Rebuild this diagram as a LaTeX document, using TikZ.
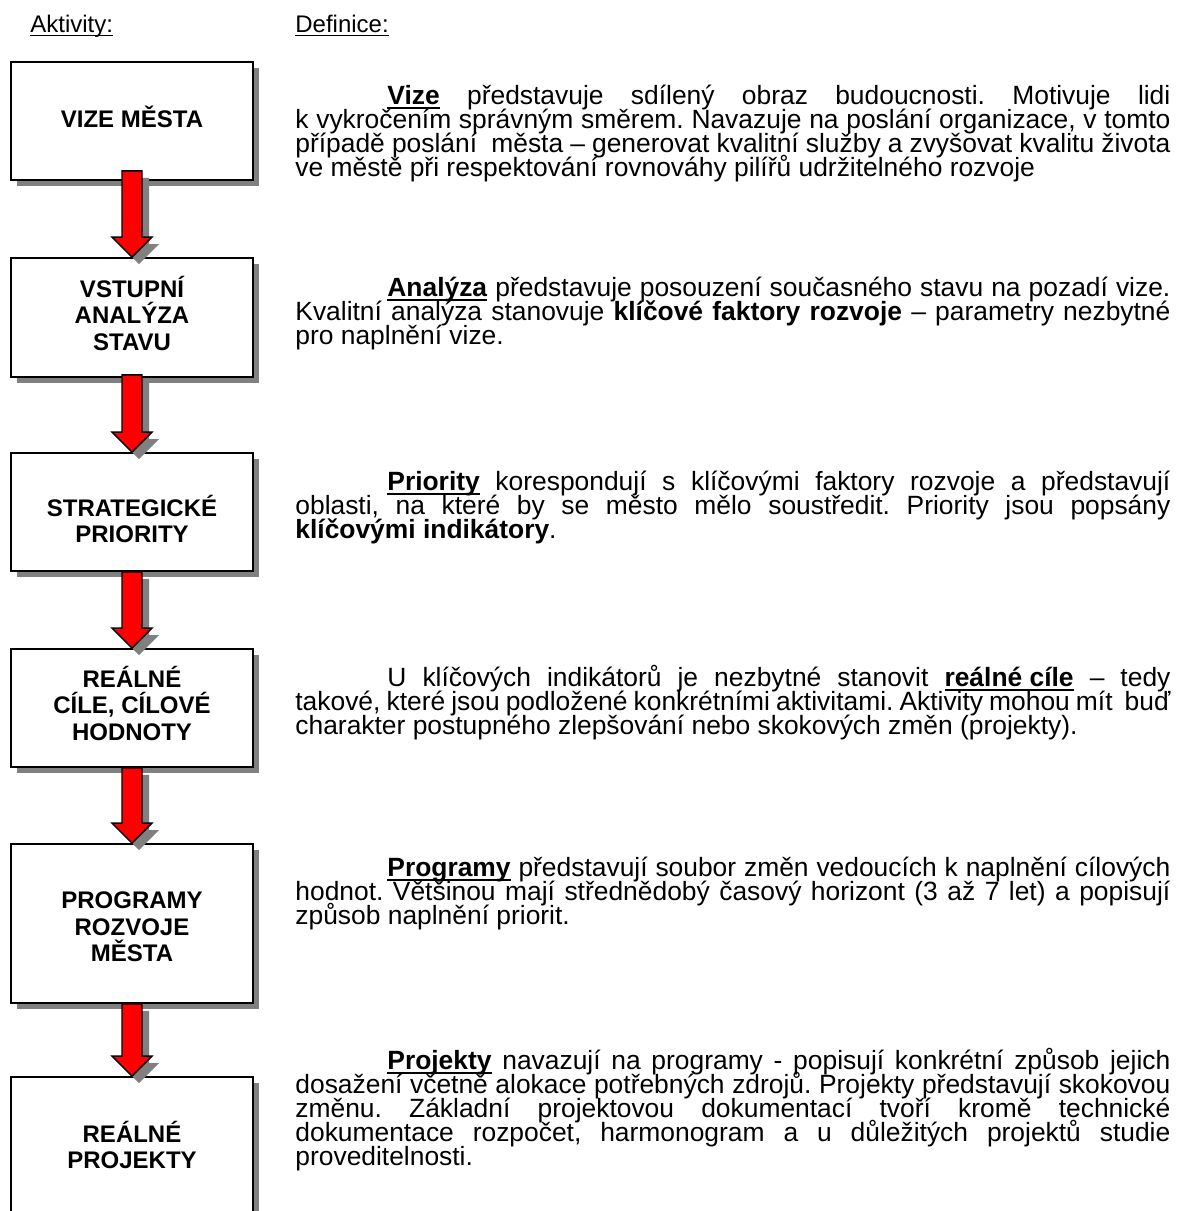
\documentclass[tikz,border=0pt]{standalone}
\usepackage{fontspec}
\setmainfont{Liberation Sans}
\usetikzlibrary{calc,shadows}
\definecolor{shadowgray}{HTML}{808080}
\newsavebox{\ulbox}
\newcommand{\keyword}[1]{\sbox{\ulbox}{\textbf{#1}}\rlap{\rule[-2.6pt]{\wd\ulbox}{1pt}}\usebox{\ulbox}}
\newcommand{\headline}[1]{\sbox{\ulbox}{#1}\rlap{\rule[-2pt]{\wd\ulbox}{0.5pt}}\usebox{\ulbox}}
\newcommand{\defnfont}{\fontsize{13.2}{12}\selectfont\frenchspacing}
\newcommand{\tightlines}{\lineskiplimit-20pt\relax\lineskip0pt\relax}
\begin{document}
\begin{tikzpicture}[x=0.5pt,y=-0.5pt,
  box/.style={rectangle,draw=black,line width=0.9pt,fill=white,minimum width=121pt,drop shadow={shadow xshift=3pt,shadow yshift=-3pt,fill=shadowgray,opacity=1}},
  boxtext/.style={align=center,font=\fontsize{12}{13.25}\selectfont\bfseries},
  defn/.style={anchor=base west,text width=437.5pt,align=justify,inner sep=0pt,font=\defnfont,execute at begin node=\tightlines},
  head/.style={anchor=base west,inner sep=0pt,font=\fontsize{12}{14}\selectfont},
  flow/.style={fill=red,draw=black,line width=0.7pt,line join=miter,drop shadow={shadow xshift=3.5pt,shadow yshift=-3.5pt,fill=shadowgray,opacity=1}}]
  \useasboundingbox (0,0) rectangle (1203,1211);
  \clip (0,0) rectangle (1203,1211);
  % column headers
  \node[head] (hakt) at (30,32) {\headline{Aktivity:}};
  \node[head] (hdef) at (295,32) {\headline{Definice:}};
  % activity boxes
  \node[box,minimum height=59pt] (b1) at (132,121) {};
  \node[box,minimum height=59.5pt] (b2) at (132,317.5) {};
  \node[box,minimum height=59pt] (b3) at (132,512) {};
  \node[box,minimum height=59pt] (b4) at (132,708) {};
  \node[box,minimum height=79.5pt] (b5) at (132,923.5) {};
  \node[box,minimum height=71.5pt] (b6) at (132,1148.5) {};
  \node[boxtext] (t1) at (132,117) {VIZE MĚSTA};
  \node[boxtext] (t2) at (132,313) {VSTUPNÍ\\ANALÝZA\\STAVU};
  \node[boxtext] (t3) at (132,519) {STRATEGICKÉ\\PRIORITY};
  \node[boxtext] (t4) at (132,703) {REÁLNÉ\\CÍLE, CÍLOVÉ\\HODNOTY};
  \node[boxtext] (t5) at (132,927) {PROGRAMY\\ROZVOJE\\MĚSTA};
  \node[boxtext] (t6) at (132,1145) {REÁLNÉ\\PROJEKTY};
  % block arrows
  \foreach \from/\to/\lap in {b1/b2/5pt,b2/b3/1.5pt,b3/b4/0pt,b4/b5/0pt,b5/b6/0pt}
    \draw[flow] ($(\from.south)+(-5pt,\lap)$) -- ($(\to.north)+(-5pt,10pt)$) -- ($(\to.north)+(-10pt,10pt)$) -- (\to.north) -- ($(\to.north)+(10pt,10pt)$) -- ($(\to.north)+(5pt,10pt)$) -- ($(\from.south)+(5pt,\lap)$) -- cycle;
  % definitions
  \node[defn] (d1) at (295,104) {\hspace*{46pt}\keyword{Vize} představuje sdílený obraz budoucnosti. Motivuje lidi\linebreak k~vykročením správným směrem. Navazuje na poslání organizace, v~tomto\linebreak případě poslání~ města – generovat kvalitní služby a zvyšovat kvalitu života\linebreak ve městě při respektování rovnováhy pilířů udržitelného rozvoje};
  \node[defn] (d2) at (295,296) {\hspace*{46pt}\keyword{Analýza} představuje posouzení současného stavu na pozadí vize.\linebreak Kvalitní analýza stanovuje \textbf{klíčové faktory rozvoje} – parametry nezbytné\linebreak pro naplnění vize.};
  \node[defn] (d3) at (295,490) {\hspace*{46pt}\keyword{Priority} korespondují s~klíčovými faktory rozvoje a představují\linebreak oblasti, na které by se město mělo soustředit. Priority jsou popsány\linebreak \textbf{klíčovými indikátory}.};
  \node[defn] (d4) at (295,686) {\hspace*{46pt}U klíčových indikátorů je nezbytné stanovit \keyword{reálné cíle} – tedy\linebreak takové, které jsou podložené konkrétními aktivitami. Aktivity mohou mít~ buď\linebreak charakter postupného zlepšování nebo skokových změn (projekty).};
  \node[defn] (d5) at (295,876) {\hspace*{46pt}\keyword{Programy} představují soubor změn vedoucích k~naplnění cílových\linebreak hodnot. Většinou mají střednědobý časový horizont (3 až 7 let) a popisují\linebreak způsob naplnění priorit.};
  \node[defn] (d6) at (295,1069) {\hspace*{46pt}\keyword{Projekty} navazují na programy - popisují konkrétní způsob jejich\linebreak dosažení včetně alokace potřebných zdrojů. Projekty představují skokovou\linebreak změnu. Základní projektovou dokumentací tvoří kromě technické\linebreak dokumentace rozpočet, harmonogram a u důležitých projektů studie\linebreak proveditelnosti.};
\end{tikzpicture}
\end{document}
